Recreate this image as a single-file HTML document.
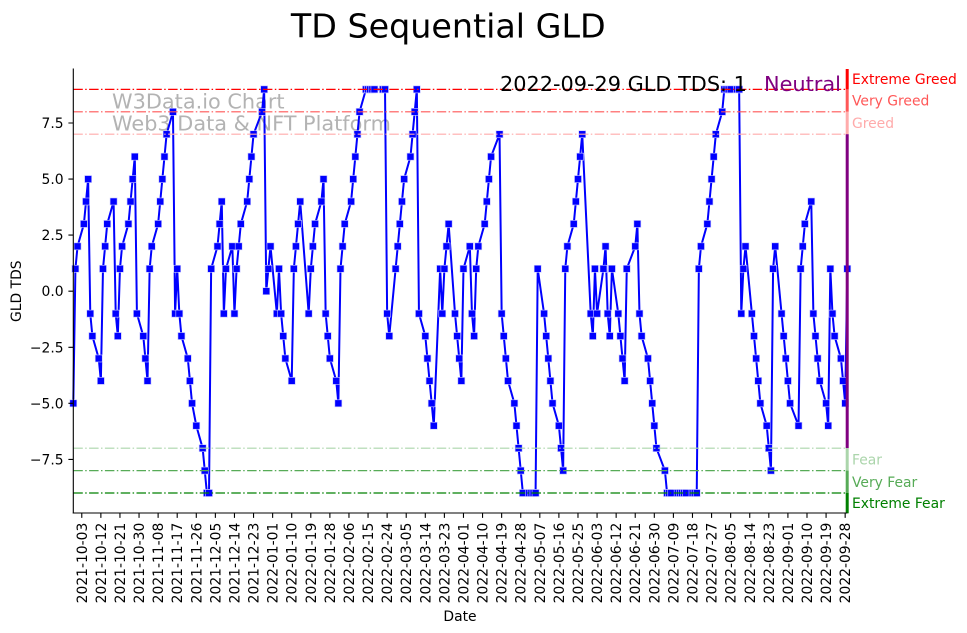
<!DOCTYPE html>
<html>
<head>
<meta charset="utf-8">
<style>
  html, body { margin: 0; padding: 0; background: #ffffff; }
  body { width: 967px; height: 633px; overflow: hidden; }
  svg { display: block; }
  text { font-family: "DejaVu Sans", "Liberation Sans", sans-serif; }
  .xt text { font-size: 13.89px; fill: #000; }
  .yt text { font-size: 13.89px; fill: #000; }
</style>
</head>
<body>
<svg id="chart" width="967" height="633" viewBox="0 0 967 633" xmlns="http://www.w3.org/2000/svg">
  <rect x="0" y="0" width="967" height="633" fill="#ffffff"/>

  <!-- Title -->
  <text x="448.3" y="37.3" text-anchor="middle" font-size="33.33" fill="#000">TD Sequential GLD</text>

  <!-- Watermark -->
  <text x="112" y="108.3" font-size="20.83" fill="#b3b3b3">W3Data.io Chart</text>
  <text x="112" y="130.7" font-size="20.83" fill="#b3b3b3">Web3 Data &amp; NFT Platform</text>

  <!-- Series container -->
  <g id="series"></g>

  <!-- Horizontal threshold lines -->
  <g fill="none" stroke-width="1.2" stroke-dasharray="9.5,2.4,1.5,2.4">
    <line x1="73.3" y1="89.4" x2="847.3" y2="89.4" stroke="#ff0000"/>
    <line x1="73.3" y1="111.8" x2="847.3" y2="111.8" stroke="#ff5757"/>
    <line x1="73.3" y1="134.2" x2="847.3" y2="134.2" stroke="#ffabab"/>
    <line x1="73.3" y1="448.2" x2="847.3" y2="448.2" stroke="#abd5ab"/>
    <line x1="73.3" y1="470.6" x2="847.3" y2="470.6" stroke="#57ab57"/>
    <line x1="73.3" y1="493.0" x2="847.3" y2="493.0" stroke="#008000"/>
  </g>

  <!-- Right colored bar -->
  <rect x="845.7" y="69" width="3" height="20.4" fill="#ff0000"/>
  <rect x="845.7" y="89.4" width="3" height="22.4" fill="#ff5757"/>
  <rect x="845.7" y="111.8" width="3" height="22.4" fill="#ffabab"/>
  <rect x="845.7" y="134.2" width="3" height="314" fill="#800080"/>
  <rect x="845.7" y="448.2" width="3" height="22.4" fill="#abd5ab"/>
  <rect x="845.7" y="470.6" width="3" height="22.4" fill="#57ab57"/>
  <rect x="845.7" y="493.0" width="3" height="20.3" fill="#008000"/>

  <!-- Zone labels -->
  <g font-size="13.89">
    <text x="852" y="79.2" dy="0.36em" fill="#ff0000">Extreme Greed</text>
    <text x="852" y="100.6" dy="0.36em" fill="#ff5757">Very Greed</text>
    <text x="852" y="123.0" dy="0.36em" fill="#ffabab">Greed</text>
    <text x="852" y="459.4" dy="0.36em" fill="#abd5ab">Fear</text>
    <text x="852" y="481.8" dy="0.36em" fill="#57ab57">Very Fear</text>
    <text x="852" y="503.2" dy="0.36em" fill="#008000">Extreme Fear</text>
  </g>

  <!-- Annotation -->
  <text x="500" y="91" font-size="20.83" fill="#000">2022-09-29 GLD TDS: 1</text>
  <text x="764" y="91" font-size="20.83" fill="#800080">Neutral</text>

  <!-- Spines -->
  <line x1="73.3" y1="68.5" x2="73.3" y2="513.5" stroke="#000" stroke-width="1.1"/>
  <line x1="72.8" y1="513" x2="847.3" y2="513" stroke="#000" stroke-width="1.1"/>

  <!-- Y ticks -->
  <path d="M68.4 123.0H73.3M68.4 179.1H73.3M68.4 235.1H73.3M68.4 291.2H73.3M68.4 347.3H73.3M68.4 403.3H73.3M68.4 459.4H73.3" stroke="#000" stroke-width="1.1"/>
  <g class="yt" text-anchor="end">
    <text x="63.6" y="123.0" dy="0.36em">7.5</text>
    <text x="63.6" y="179.1" dy="0.36em">5.0</text>
    <text x="63.6" y="235.1" dy="0.36em">2.5</text>
    <text x="63.6" y="291.2" dy="0.36em">0.0</text>
    <text x="63.6" y="347.3" dy="0.36em">−2.5</text>
    <text x="63.6" y="403.3" dy="0.36em">−5.0</text>
    <text x="63.6" y="459.4" dy="0.36em">−7.5</text>
  </g>

  <!-- X ticks -->
  <path stroke="#000" stroke-width="1.1" d="M81.78 513v4.9M100.87 513v4.9M119.95 513v4.9M139.04 513v4.9M158.12 513v4.9M177.20 513v4.9M196.29 513v4.9M215.37 513v4.9M234.46 513v4.9M253.54 513v4.9M272.63 513v4.9M291.71 513v4.9M310.79 513v4.9M329.88 513v4.9M348.96 513v4.9M368.05 513v4.9M387.13 513v4.9M406.22 513v4.9M425.30 513v4.9M444.39 513v4.9M463.47 513v4.9M482.55 513v4.9M501.64 513v4.9M520.72 513v4.9M539.81 513v4.9M558.89 513v4.9M577.98 513v4.9M597.06 513v4.9M616.15 513v4.9M635.23 513v4.9M654.31 513v4.9M673.40 513v4.9M692.48 513v4.9M711.57 513v4.9M730.65 513v4.9M749.74 513v4.9M768.82 513v4.9M787.91 513v4.9M806.99 513v4.9M826.08 513v4.9M845.16 513v4.9"/>
  <g class="xt" text-anchor="end">
    <text transform="translate(81.78 522.7) rotate(-90)" dy="0.36em">2021-10-03</text>
    <text transform="translate(100.87 522.7) rotate(-90)" dy="0.36em">2021-10-12</text>
    <text transform="translate(119.95 522.7) rotate(-90)" dy="0.36em">2021-10-21</text>
    <text transform="translate(139.04 522.7) rotate(-90)" dy="0.36em">2021-10-30</text>
    <text transform="translate(158.12 522.7) rotate(-90)" dy="0.36em">2021-11-08</text>
    <text transform="translate(177.20 522.7) rotate(-90)" dy="0.36em">2021-11-17</text>
    <text transform="translate(196.29 522.7) rotate(-90)" dy="0.36em">2021-11-26</text>
    <text transform="translate(215.37 522.7) rotate(-90)" dy="0.36em">2021-12-05</text>
    <text transform="translate(234.46 522.7) rotate(-90)" dy="0.36em">2021-12-14</text>
    <text transform="translate(253.54 522.7) rotate(-90)" dy="0.36em">2021-12-23</text>
    <text transform="translate(272.63 522.7) rotate(-90)" dy="0.36em">2022-01-01</text>
    <text transform="translate(291.71 522.7) rotate(-90)" dy="0.36em">2022-01-10</text>
    <text transform="translate(310.79 522.7) rotate(-90)" dy="0.36em">2022-01-19</text>
    <text transform="translate(329.88 522.7) rotate(-90)" dy="0.36em">2022-01-28</text>
    <text transform="translate(348.96 522.7) rotate(-90)" dy="0.36em">2022-02-06</text>
    <text transform="translate(368.05 522.7) rotate(-90)" dy="0.36em">2022-02-15</text>
    <text transform="translate(387.13 522.7) rotate(-90)" dy="0.36em">2022-02-24</text>
    <text transform="translate(406.22 522.7) rotate(-90)" dy="0.36em">2022-03-05</text>
    <text transform="translate(425.30 522.7) rotate(-90)" dy="0.36em">2022-03-14</text>
    <text transform="translate(444.39 522.7) rotate(-90)" dy="0.36em">2022-03-23</text>
    <text transform="translate(463.47 522.7) rotate(-90)" dy="0.36em">2022-04-01</text>
    <text transform="translate(482.55 522.7) rotate(-90)" dy="0.36em">2022-04-10</text>
    <text transform="translate(501.64 522.7) rotate(-90)" dy="0.36em">2022-04-19</text>
    <text transform="translate(520.72 522.7) rotate(-90)" dy="0.36em">2022-04-28</text>
    <text transform="translate(539.81 522.7) rotate(-90)" dy="0.36em">2022-05-07</text>
    <text transform="translate(558.89 522.7) rotate(-90)" dy="0.36em">2022-05-16</text>
    <text transform="translate(577.98 522.7) rotate(-90)" dy="0.36em">2022-05-25</text>
    <text transform="translate(597.06 522.7) rotate(-90)" dy="0.36em">2022-06-03</text>
    <text transform="translate(616.15 522.7) rotate(-90)" dy="0.36em">2022-06-12</text>
    <text transform="translate(635.23 522.7) rotate(-90)" dy="0.36em">2022-06-21</text>
    <text transform="translate(654.31 522.7) rotate(-90)" dy="0.36em">2022-06-30</text>
    <text transform="translate(673.40 522.7) rotate(-90)" dy="0.36em">2022-07-09</text>
    <text transform="translate(692.48 522.7) rotate(-90)" dy="0.36em">2022-07-18</text>
    <text transform="translate(711.57 522.7) rotate(-90)" dy="0.36em">2022-07-27</text>
    <text transform="translate(730.65 522.7) rotate(-90)" dy="0.36em">2022-08-05</text>
    <text transform="translate(749.74 522.7) rotate(-90)" dy="0.36em">2022-08-14</text>
    <text transform="translate(768.82 522.7) rotate(-90)" dy="0.36em">2022-08-23</text>
    <text transform="translate(787.91 522.7) rotate(-90)" dy="0.36em">2022-09-01</text>
    <text transform="translate(806.99 522.7) rotate(-90)" dy="0.36em">2022-09-10</text>
    <text transform="translate(826.08 522.7) rotate(-90)" dy="0.36em">2022-09-19</text>
    <text transform="translate(845.16 522.7) rotate(-90)" dy="0.36em">2022-09-28</text>
  </g>

  <!-- Axis labels -->
  <text x="460" y="621" text-anchor="middle" font-size="13.89" fill="#000">Date</text>
  <text transform="translate(16 291.2) rotate(-90)" text-anchor="middle" dy="0.36em" font-size="13.89" fill="#000">GLD TDS</text>
</svg>

<script>
(function(){
  var raw = "2021-09-29:-5 2021-09-30:1 2021-10-01:2 2021-10-04:3 2021-10-05:4 2021-10-06:5 2021-10-07:-1 2021-10-08:-2 2021-10-11:-3 2021-10-12:-4 2021-10-13:1 2021-10-14:2 2021-10-15:3 2021-10-18:4 2021-10-19:-1 2021-10-20:-2 2021-10-21:1 2021-10-22:2 2021-10-25:3 2021-10-26:4 2021-10-27:5 2021-10-28:6 2021-10-29:-1 " +
  "2021-11-01:-2 2021-11-02:-3 2021-11-03:-4 2021-11-04:1 2021-11-05:2 2021-11-08:3 2021-11-09:4 2021-11-10:5 2021-11-11:6 2021-11-12:7 2021-11-15:8 2021-11-16:-1 2021-11-17:1 2021-11-18:-1 2021-11-19:-2 2021-11-22:-3 2021-11-23:-4 2021-11-24:-5 2021-11-26:-6 2021-11-29:-7 2021-11-30:-8 " +
  "2021-12-01:-9 2021-12-02:-9 2021-12-03:1 2021-12-06:2 2021-12-07:3 2021-12-08:4 2021-12-09:-1 2021-12-10:1 2021-12-13:2 2021-12-14:-1 2021-12-15:1 2021-12-16:2 2021-12-17:3 2021-12-20:4 2021-12-21:5 2021-12-22:6 2021-12-23:7 2021-12-27:8 2021-12-28:9 2021-12-29:0 2021-12-30:1 2021-12-31:2 " +
  "2022-01-03:-1 2022-01-04:1 2022-01-05:-1 2022-01-06:-2 2022-01-07:-3 2022-01-10:-4 2022-01-11:1 2022-01-12:2 2022-01-13:3 2022-01-14:4 2022-01-18:-1 2022-01-19:1 2022-01-20:2 2022-01-21:3 2022-01-24:4 2022-01-25:5 2022-01-26:-1 2022-01-27:-2 2022-01-28:-3 2022-01-31:-4 " +
  "2022-02-01:-5 2022-02-02:1 2022-02-03:2 2022-02-04:3 2022-02-07:4 2022-02-08:5 2022-02-09:6 2022-02-10:7 2022-02-11:8 2022-02-14:9 2022-02-15:9 2022-02-16:9 2022-02-17:9 2022-02-18:9 2022-02-22:9 2022-02-23:9 2022-02-24:-1 2022-02-25:-2 2022-02-28:1 " +
  "2022-03-01:2 2022-03-02:3 2022-03-03:4 2022-03-04:5 2022-03-07:6 2022-03-08:7 2022-03-09:8 2022-03-10:9 2022-03-11:-1 2022-03-14:-2 2022-03-15:-3 2022-03-16:-4 2022-03-17:-5 2022-03-18:-6 2022-03-21:1 2022-03-22:-1 2022-03-23:1 2022-03-24:2 2022-03-25:3 2022-03-28:-1 2022-03-29:-2 2022-03-30:-3 2022-03-31:-4 " +
  "2022-04-01:1 2022-04-04:2 2022-04-05:-1 2022-04-06:-2 2022-04-07:1 2022-04-08:2 2022-04-11:3 2022-04-12:4 2022-04-13:5 2022-04-14:6 2022-04-18:7 2022-04-19:-1 2022-04-20:-2 2022-04-21:-3 2022-04-22:-4 2022-04-25:-5 2022-04-26:-6 2022-04-27:-7 2022-04-28:-8 2022-04-29:-9 " +
  "2022-05-02:-9 2022-05-03:-9 2022-05-04:-9 2022-05-05:-9 2022-05-06:1 2022-05-09:-1 2022-05-10:-2 2022-05-11:-3 2022-05-12:-4 2022-05-13:-5 2022-05-16:-6 2022-05-17:-7 2022-05-18:-8 2022-05-19:1 2022-05-20:2 2022-05-23:3 2022-05-24:4 2022-05-25:5 2022-05-26:6 2022-05-27:7 2022-05-31:-1 " +
  "2022-06-01:-2 2022-06-02:1 2022-06-03:-1 2022-06-06:1 2022-06-07:2 2022-06-08:-1 2022-06-09:-2 2022-06-10:1 2022-06-13:-1 2022-06-14:-2 2022-06-15:-3 2022-06-16:-4 2022-06-17:1 2022-06-21:2 2022-06-22:3 2022-06-23:-1 2022-06-24:-2 2022-06-27:-3 2022-06-28:-4 2022-06-29:-5 2022-06-30:-6 " +
  "2022-07-01:-7 2022-07-05:-8 2022-07-06:-9 2022-07-07:-9 2022-07-08:-9 2022-07-11:-9 2022-07-12:-9 2022-07-13:-9 2022-07-14:-9 2022-07-15:-9 2022-07-18:-9 2022-07-19:-9 2022-07-20:-9 2022-07-21:1 2022-07-22:2 2022-07-25:3 2022-07-26:4 2022-07-27:5 2022-07-28:6 2022-07-29:7 " +
  "2022-08-01:8 2022-08-02:9 2022-08-03:9 2022-08-04:9 2022-08-05:9 2022-08-08:9 2022-08-09:9 2022-08-10:-1 2022-08-11:1 2022-08-12:2 2022-08-15:-1 2022-08-16:-2 2022-08-17:-3 2022-08-18:-4 2022-08-19:-5 2022-08-22:-6 2022-08-23:-7 2022-08-24:-8 2022-08-25:1 2022-08-26:2 2022-08-29:-1 2022-08-30:-2 2022-08-31:-3 " +
  "2022-09-01:-4 2022-09-02:-5 2022-09-06:-6 2022-09-07:1 2022-09-08:2 2022-09-09:3 2022-09-12:4 2022-09-13:-1 2022-09-14:-2 2022-09-15:-3 2022-09-16:-4 2022-09-19:-5 2022-09-20:-6 2022-09-21:1 2022-09-22:-1 2022-09-23:-2 2022-09-26:-3 2022-09-27:-4 2022-09-28:-5 2022-09-29:1";
  var NS = "http://www.w3.org/2000/svg";
  var g = document.getElementById("series");
  var t0 = Date.UTC(2021, 8, 29);
  var X0 = 73.3, PX = 774 / 365, Y0 = 291.2, PY = 22.424;
  var pts = [];
  raw.trim().split(/\s+/).forEach(function(s){
    var p = s.split(":");
    var dp = p[0].split("-").map(Number);
    var d = (Date.UTC(dp[0], dp[1]-1, dp[2]) - t0) / 86400000;
    var v = parseFloat(p[1]);
    pts.push([X0 + d * PX, Y0 - v * PY]);
  });
  var pl = document.createElementNS(NS, "polyline");
  pl.setAttribute("points", pts.map(function(q){return q[0].toFixed(2)+","+q[1].toFixed(2);}).join(" "));
  pl.setAttribute("fill", "none");
  pl.setAttribute("stroke", "#0000ff");
  pl.setAttribute("stroke-width", "2");
  pl.setAttribute("stroke-linejoin", "round");
  g.appendChild(pl);
  var s = 7;
  pts.forEach(function(q){
    var r = document.createElementNS(NS, "rect");
    r.setAttribute("x", (q[0]-s/2).toFixed(2));
    r.setAttribute("y", (q[1]-s/2).toFixed(2));
    r.setAttribute("width", s);
    r.setAttribute("height", s);
    r.setAttribute("fill", "#0000ff");
    r.setAttribute("stroke", "#c8c8ff");
    r.setAttribute("stroke-width", "0.6");
    g.appendChild(r);
  });
})();
</script>
</body>
</html>
